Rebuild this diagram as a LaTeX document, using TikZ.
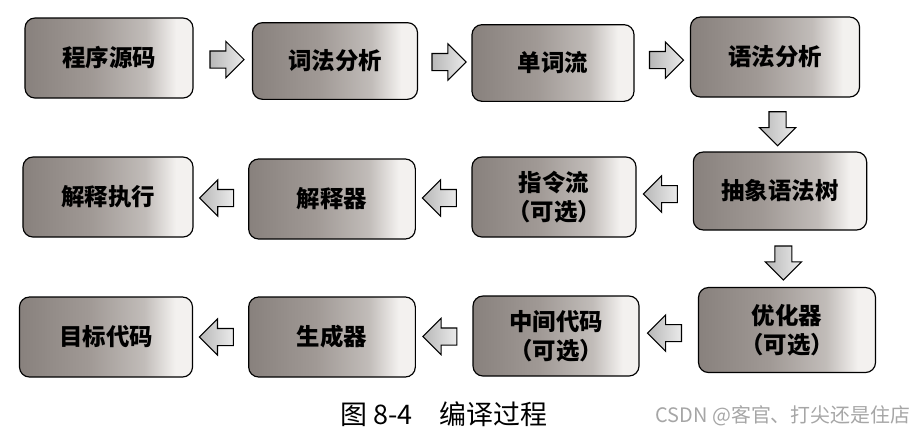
\documentclass[tikz,border=0pt]{standalone}
\usepackage{fontspec}
\setmainfont{Noto Sans CJK SC}
\usepackage{xcolor}
\usetikzlibrary{shapes.arrows}
\definecolor{boxdark}{RGB}{136,129,125}
\definecolor{boxmid}{RGB}{160,153,149}
\definecolor{boxlight}{RGB}{243,241,239}
\colorlet{markgray}{black!35}
\pgfdeclarehorizontalshading{boxshade}{100bp}{color(0bp)=(boxdark); color(25bp)=(boxdark); color(45bp)=(boxmid); color(61bp)=(boxmid!60!boxlight); color(70bp)=(boxlight); color(100bp)=(boxlight)}

\begin{document}
\begin{tikzpicture}[x=0.03cm, y=-0.03cm,
    stage/.style={draw=black, line width=1pt, rounded corners=0.3cm, shade, shading=boxshade,
        minimum width=5.05cm, minimum height=2.4cm, inner sep=2pt, align=center,
        font=\fontsize{20}{25}\selectfont\bfseries},
    blockarrow/.style={single arrow, draw=black, line width=0.9pt, left color=black!28, right color=black!8,
        inner sep=0.24cm, minimum height=1.02cm, single arrow head extend=0.29cm, single arrow tip angle=90},
    goright/.style={blockarrow, shape border rotate=0},
    goleft/.style={blockarrow, shape border rotate=180},
    godown/.style={blockarrow, shape border rotate=270}]

    \useasboundingbox (0,0) rectangle (919,436);

    % ===== ROW 1 =====
    \node[stage, minimum width=5.04cm] (src) at (109, 58) {程序源码};
    \node[stage, minimum width=4.95cm, minimum height=2.3cm] (lex) at (335, 61) {词法分析};
    \node[stage, minimum width=4.86cm, minimum height=2.3cm] (tok) at (553, 63) {单词流};
    \node[stage, minimum width=5.07cm] (syn) at (775, 57) {语法分析};

    % ===== ROW 2 =====
    \node[stage, minimum width=5.2cm, minimum height=2.34cm] (ast) at (780, 191) {抽象语法树};
    \node[stage, minimum width=4.92cm] (ins) at (554, 197) {指令流\\（可选）};
    \node[stage, minimum width=5.0cm] (itp) at (332, 199) {解释器};
    \node[stage, minimum width=5.1cm] (run) at (108, 197) {解释执行};

    % ===== ROW 3 =====
    \node[stage, minimum width=5.31cm, minimum height=2.55cm] (opt) at (787, 330) {优化器\\（可选）};
    \node[stage, minimum width=4.98cm] (mid) at (556, 336) {中间代码\\（可选）};
    \node[stage, minimum width=5.0cm] (gen) at (332, 337) {生成器};
    \node[stage, minimum width=5.19cm] (obj) at (106, 337) {目标代码};

    % ===== BLOCK ARROWS =====
    \path (src) -- node[goright] (a1) {} (lex);
    \path (lex) -- node[goright] (a2) {} (tok);
    \path (tok) -- node[goright] (a3) {} (syn);
    \path (syn) -- node[godown] (a4) {} (ast);
    \path (ast) -- node[goleft] (a5) {} (ins);
    \path (ins) -- node[goleft] (a6) {} (itp);
    \path (itp) -- node[goleft] (a7) {} (run);
    \path (ast) -- node[godown] (a8) {} (opt);
    \path (opt) -- node[goleft] (a9) {} (mid);
    \path (mid) -- node[goleft] (a10) {} (gen);
    \path (gen) -- node[goleft] (a11) {} (obj);

    % ===== CAPTION =====
    \node[font=\fontsize{23}{27}\selectfont] (cap) at (444, 414) {图 8-4\quad 编译过程};
    \node[font=\fontsize{17}{20}\selectfont, text=markgray] (mark) at (783, 416) {CSDN @客官、打尖还是住店};

\end{tikzpicture}
\end{document}
